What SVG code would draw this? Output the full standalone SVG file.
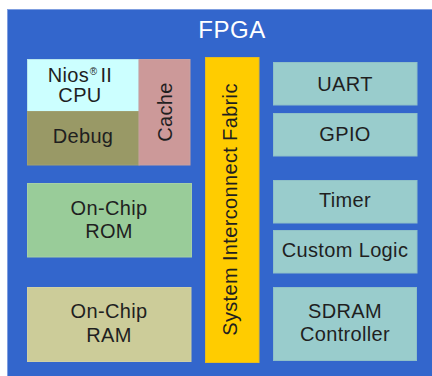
<svg xmlns="http://www.w3.org/2000/svg" width="432" height="376" viewBox="0 0 432 376">
<style>
text{font-family:"Liberation Sans",Arial,sans-serif;font-size:20px;letter-spacing:0.35px;fill:#1f1f1f;text-anchor:middle}
.b{stroke-width:1}
.per{fill:#99cccc;stroke:#8fc0c8}
</style>
<rect width="432" height="376" fill="#ffffff"/>
<g id="fpga">
<rect x="7.5" y="9.5" width="430" height="372" fill="#3366cc" stroke="#7f9ee0" stroke-width="1"/>
<text x="232" y="38" style="fill:#ffffff;font-size:24px;letter-spacing:0.5px">FPGA</text>
</g>
<g id="cpu">
<rect class="b" x="27.5" y="59.5" width="111.5" height="52" fill="#ccffff" stroke="#b8e6ee"/>
<text x="80" y="81.5">Nios<tspan font-size="10" dy="-7" dx="0.5">®</tspan><tspan dy="7" dx="3">II</tspan></text>
<text x="80" y="101.5">CPU</text>
</g>
<g id="debug">
<rect class="b" x="27.5" y="111.5" width="111.5" height="53.5" fill="#999966" stroke="#a0a070"/>
<text x="83" y="142.5">Debug</text>
</g>
<g id="cache">
<rect class="b" x="139" y="59.5" width="51" height="105.5" fill="#cc9999" stroke="#c8a0a0"/>
<text transform="translate(171.5,112) rotate(-90)">Cache</text>
</g>
<g id="rom">
<rect class="b" x="27.5" y="183.5" width="164" height="73.5" fill="#99cc99" stroke="#a6d0a6"/>
<text x="109" y="214.5">On-Chip</text>
<text x="109" y="237.5">ROM</text>
</g>
<g id="ram">
<rect class="b" x="27.5" y="287.5" width="163.5" height="74" fill="#cccc99" stroke="#d0d0a6"/>
<text x="109" y="318">On-Chip</text>
<text x="109" y="341.5">RAM</text>
</g>
<g id="fabric">
<rect class="b" x="205.5" y="57.5" width="53.5" height="305" fill="#ffcc00" stroke="#e6bb20"/>
<text transform="translate(236.5,209.5) rotate(-90)">System Interconnect Fabric</text>
</g>
<g id="uart">
<rect class="b per" x="273.5" y="62.5" width="143.5" height="42.5"/>
<text x="345" y="90.5">UART</text>
</g>
<g id="gpio">
<rect class="b per" x="273.5" y="113.5" width="143.5" height="42.5"/>
<text x="345" y="140.5">GPIO</text>
</g>
<g id="timer">
<rect class="b per" x="273.5" y="180.5" width="143.5" height="42.5"/>
<text x="345" y="206.5">Timer</text>
</g>
<g id="custom">
<rect class="b per" x="273.5" y="230.5" width="143.5" height="42.5"/>
<text x="345" y="257">Custom Logic</text>
</g>
<g id="sdram">
<rect class="b per" x="273.5" y="287.5" width="143" height="73"/>
<text x="345" y="317.5">SDRAM</text>
<text x="345" y="340.5">Controller</text>
</g>
<g id="connectors"></g>
</svg>
